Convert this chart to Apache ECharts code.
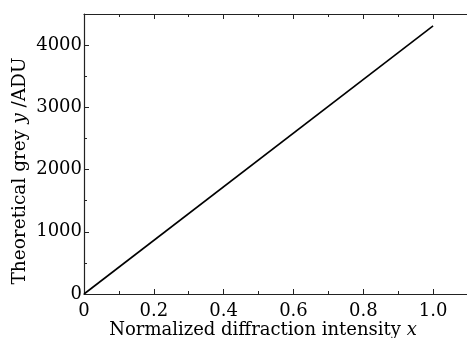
<!DOCTYPE html>
<html><head><meta charset="utf-8">
<script src="https://cdn.jsdelivr.net/npm/echarts@6/dist/echarts.min.js"></script>
<style>html,body{margin:0;padding:0;background:#fff}#c{width:467px;height:338px}</style>
</head><body><div id="c"></div>
<script>
const xValues = [0, 1.0];
const yValues = [0, 4310];
const xTicks = [0, 0.2, 0.4, 0.6, 0.8, 1.0];
const yTicks = [0, 1000, 2000, 3000, 4000];

const FONT = '"DejaVu Serif", serif';
const chart = echarts.init(document.getElementById('c'), null, {renderer: 'canvas'});
const axisCommon = {
  axisLine: {show: true, lineStyle: {color: '#222', width: 1.2}},
  axisTick: {show: true, inside: true, length: 5, lineStyle: {color: '#222', width: 1}},
  minorTick: {show: true, splitNumber: 2, length: 3, lineStyle: {color: '#222', width: 1}},
  splitLine: {show: false}
};
chart.setOption({
  animation: false,
  grid: {left: 84, top: 14, right: -1, bottom: 44, containLabel: false, outerBoundsMode: 'none'},
  xAxis: [{
    type: 'value', min: 0, max: 1.1, interval: 0.2,
    ...axisCommon,
    axisLabel: {show: true, margin: 8, color: '#000', fontFamily: FONT, fontSize: 18, showMaxLabel: false,
      formatter: v => {
        const r = Math.round(v * 10) / 10;
        return xTicks.indexOf(r) >= 0 ? (r === 0 ? '0' : r.toFixed(1)) : '';
      }},
    name: '{n|Normalized diffraction intensity }{i|x}',
    nameLocation: 'middle', nameGap: 27, nameMoveOverlap: false,
    nameTextStyle: {padding: [0, 26, 0, 0], rich: {
      n: {fontFamily: FONT, fontSize: 18, color: '#000'},
      i: {fontFamily: FONT, fontSize: 18, fontStyle: 'italic', color: '#000'}
    }}
  }, {
    type: 'value', position: 'top', min: 0, max: 1.1, interval: 0.2,
    ...axisCommon,
    axisLabel: {show: false}
  }],
  yAxis: [{
    type: 'value', min: 0, max: 4500, interval: 1000,
    ...axisCommon,
    axisLabel: {show: true, margin: 2, color: '#000', fontFamily: FONT, fontSize: 18, showMaxLabel: false,
      formatter: v => (yTicks.indexOf(v) >= 0 ? String(v) : '')},
    name: '{n|Theoretical grey }{i|y}{n| /ADU}',
    nameLocation: 'middle', nameGap: 54, nameRotate: 90, nameMoveOverlap: false,
    nameTextStyle: {padding: [0, 34, 0, 0], rich: {
      n: {fontFamily: FONT, fontSize: 18.5, color: '#000'},
      i: {fontFamily: FONT, fontSize: 18.5, fontStyle: 'italic', color: '#000'}
    }}
  }],
  series: [{
    type: 'line',
    data: xValues.map((x, i) => [x, yValues[i]]),
    showSymbol: false,
    lineStyle: {color: '#000', width: 1.6},
    xAxisIndex: 0, yAxisIndex: 0
  }]
});
</script></body></html>
